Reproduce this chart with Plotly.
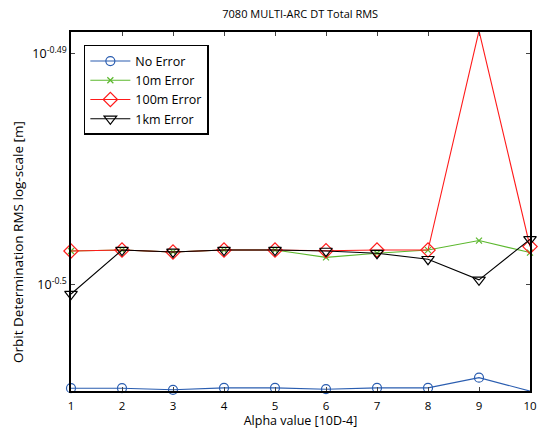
import plotly.graph_objects as go

alpha = [1, 2, 3, 4, 5, 6, 7, 8, 9, 10]
no_error = [0.31299, 0.31299, 0.31294, 0.31300, 0.31300, 0.31296, 0.31300, 0.31300, 0.31332, 0.31290]
err_10m = [0.31730, 0.31733, 0.31727, 0.31733, 0.31733, 0.31710, 0.31723, 0.31733, 0.31763, 0.31725]
err_100m = [0.31730, 0.31733, 0.31727, 0.31733, 0.31733, 0.31731, 0.31733, 0.31733, 0.32434, 0.31744]
err_1km = [0.31594, 0.31733, 0.31727, 0.31733, 0.31733, 0.31730, 0.31723, 0.31704, 0.31639, 0.31767]

ytick_vals = [10 ** -0.5, 10 ** -0.49]
ytick_text = ["10<sup>-0.5</sup>", "10<sup>-0.49</sup>"]

FONT = "Open Sans"

fig = go.Figure()
series = [
    ("No Error", no_error, "#2a5db0", dict(symbol="circle-open", size=9)),
    ("10m Error", err_10m, "#5cb82e", dict(symbol="x-thin-open", size=6, line=dict(width=1.2))),
    ("100m Error", err_100m, "#ff1a1a", dict(symbol="diamond-open", size=11)),
    ("1km Error", err_1km, "#000000", dict(symbol="triangle-down-open", size=11)),
]
for name, ys, color, mk in series:
    marker = dict(color=color, **mk)
    if "line" not in marker:
        marker["line"] = dict(width=1.2, color=color)
    else:
        marker["line"]["color"] = color
    fig.add_trace(go.Scatter(
        x=alpha, y=ys, name=name, mode="lines+markers",
        line=dict(color=color, width=1.1),
        marker=marker, cliponaxis=False,
    ))

fig.update_layout(
    width=538, height=429,
    margin=dict(l=71, r=8, t=32, b=38, autoexpand=False),
    paper_bgcolor="white", plot_bgcolor="white",
    font=dict(family=FONT, size=11, color="black"),
    title=dict(text="7080 MULTI-ARC DT Total RMS", x=0.558, xanchor="center",
               y=0.967, yanchor="middle", font=dict(size=11)),
    showlegend=True,
    legend=dict(x=0.028, y=0.964, xanchor="left", yanchor="top",
                bgcolor="white", bordercolor="black", borderwidth=1.5,
                font=dict(size=12.5), tracegroupgap=0, itemwidth=40),
    xaxis=dict(
        range=[1, 10], tickvals=alpha, ticks="inside", ticklen=4,
        showline=True, linecolor="black", linewidth=1.5, mirror="ticks",
        showgrid=False, zeroline=False, ticklabelstandoff=3, automargin=False,
        title=dict(text="Alpha value [10D-4]", standoff=4, font=dict(size=12.5)),
        tickfont=dict(size=11.5),
    ),
    yaxis=dict(
        type="log", range=[-0.50459, -0.48905],
        tickvals=ytick_vals, ticktext=ytick_text,
        ticks="inside", ticklen=4, automargin=False,
        showline=True, linecolor="black", linewidth=1.5, mirror="ticks",
        showgrid=False, zeroline=False,
        tickfont=dict(size=12.5),
    ),
    annotations=[dict(
        text="Orbit Determination RMS log-scale [m]", textangle=-90,
        xref="paper", yref="paper", x=-0.1155, y=0.415,
        xanchor="center", yanchor="middle", showarrow=False,
        font=dict(size=13.5),
    )],
)

fig.write_html("out.html")
